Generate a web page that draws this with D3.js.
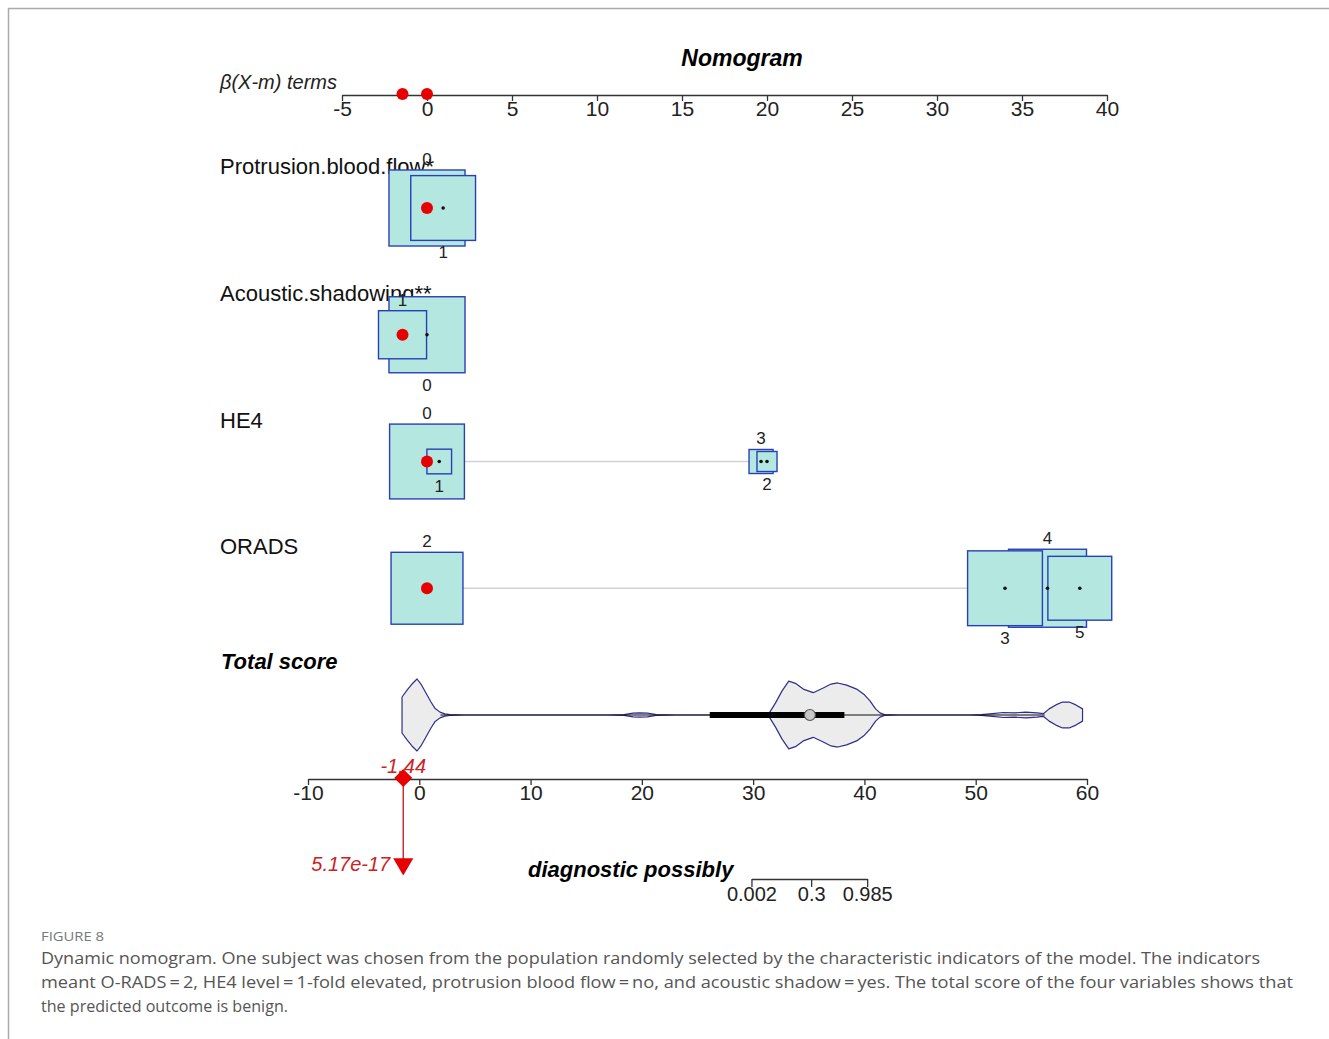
<!DOCTYPE html>
<html>
<head>
<meta charset="utf-8">
<title>Dynamic nomogram</title>
<script src="https://d3js.org/d3.v7.min.js"></script>
<style>
  body { margin: 0; background: #fff; }
  text { font-family: "Liberation Sans", Arial, sans-serif; }
</style>
</head>
<body>
<div id="chart"></div>
<script>
// model variables, top to bottom
var variables = ["Protrusion.blood.flow*", "Acoustic.shadowing**", "HE4", "ORADS"];
var levels = [["0", "1"], ["0", "1"], ["0", "1", "2", "3"], ["2", "3", "4", "5"]];
// beta(X-m) contribution of each level
var betas = [[0, 0.95], [0, -1.44], [0, 0.72, 20.0, 19.65], [0, 34.0, 36.5, 38.4]];
// relative frequency of each level (box area)
var freqs = [[95, 69], [95, 38], [92, 10, 6.6, 9.5], [85, 92, 100, 67]];
// the randomly chosen subject
var observed = ["0", "1", "0", "2"];

var betaTicks = d3.range(-5, 41, 5);
var scoreTicks = d3.range(-10, 61, 10);
var probTicks = [0.002, 0.3, 0.985];
var intercept = -36.061;

// total score distribution (violin), density relative to its peak
var violinScore = [-1.55, -1.1, -0.66, -0.2, 0.15, 0.6, 1.05, 1.4, 1.86, 2.3, 2.75, 4,
  17, 18.4, 19.2, 19.8, 20.5, 21.3, 23,
  30.5, 31.4, 32.0, 32.6, 33.2, 33.8, 34.5, 35.4, 36.3, 37.0, 37.6, 38.4, 39.3, 40.0, 40.5, 41.0, 41.4, 41.8, 43,
  49.5, 50.5, 51.5, 52.5, 53.5, 54.5, 55.5, 56.1, 56.6, 57.2, 57.8, 58.4, 59.0, 59.6];
var violinDensity = [0.50, 0.69, 0.86, 1.00, 0.86, 0.61, 0.36, 0.19, 0.08, 0.03, 0.01, 0,
  0, 0.01, 0.05, 0.06, 0.05, 0.01, 0,
  0, 0.03, 0.33, 0.67, 0.94, 0.88, 0.72, 0.62, 0.75, 0.86, 0.89, 0.83, 0.72, 0.56, 0.39, 0.17, 0.06, 0.01, 0,
  0, 0.01, 0.04, 0.07, 0.06, 0.08, 0.06, 0.04, 0.17, 0.28, 0.36, 0.36, 0.28, 0.17];
// whisker low, q1, median, q3, whisker high
var boxStats = [1.9, 26.1, 35.1, 38.2, 56.2];

var width = 1329, height = 1039;
var svg = d3.select("#chart").append("svg")
    .attr("width", width)
    .attr("height", height);

// R-style labels use a plain hyphen for negatives
function fmt(d) { return String(d); }

// page frame
svg.append("line").attr("x1", 8).attr("x2", width).attr("y1", 8.5).attr("y2", 8.5)
    .attr("stroke", "#aaa").attr("stroke-width", 1.5);
svg.append("line").attr("x1", 8.5).attr("x2", 8.5).attr("y1", 8).attr("y2", height)
    .attr("stroke", "#aaa").attr("stroke-width", 1.5);

var bx = d3.scaleLinear().domain([-5, 40]).range([342, 1107]);
var sx = d3.scaleLinear().domain([-10, 60]).range([308, 1087]);
var row = d3.scalePoint().domain(variables.concat(["Total score"])).range([208, 715]);
var boxSize = d3.scaleSqrt().domain([0, 100]).range([0, 78]);
var dens = d3.scaleLinear().domain([0, 1]).range([0, 36]);

var red = "#e60000", textRed = "#cc2222";
var fillBox = "#b3e7df", strokeBox = "#2b3fb5";

// title
svg.append("text").attr("x", 742).attr("y", 66)
    .attr("text-anchor", "middle")
    .style("font-size", "23px").style("font-weight", "bold").style("font-style", "italic")
    .text("Nomogram");

// beta axis
var topY = 95;
svg.append("text").attr("x", 220).attr("y", 89)
    .style("font-size", "20px").style("font-style", "italic").attr("fill", "#222")
    .text("\u03B2(X-m) terms");
var gTop = svg.append("g").attr("transform", "translate(0," + topY + ")")
    .call(d3.axisBottom(bx).tickValues(betaTicks).tickFormat(fmt)
      .tickSize(6).tickSizeOuter(0).tickPadding(0));
gTop.selectAll("text").style("font-size", "21px").attr("fill", "#222");
gTop.selectAll("path, line").attr("stroke", "#333").attr("stroke-width", 1.3);

var obsBetas = variables.map(function(v, i) {
  return betas[i][levels[i].indexOf(observed[i])];
});
svg.selectAll(".obsTop")
    .data(Array.from(new Set(obsBetas)))
    .enter().append("circle")
    .attr("cx", function(d) { return bx(d); })
    .attr("cy", topY - 1)
    .attr("r", 6)
    .attr("fill", red);

// variable rows
variables.forEach(function(v, i) {
  var cy = row(v);
  var items = levels[i].map(function(l, j) {
    return { lev: l, beta: betas[i][j], freq: freqs[i][j], s: boxSize(freqs[i][j]) };
  });
  var sorted = items.slice().sort(function(a, b) { return a.beta - b.beta; });
  sorted.forEach(function(d, k) { d.above = (k % 2 === 0); });

  svg.append("text").attr("x", 220).attr("y", cy - 34)
      .style("font-size", "22px").attr("fill", "#111")
      .text(v);

  svg.append("line")
      .attr("x1", bx(d3.min(items, function(d) { return d.beta; })))
      .attr("x2", bx(d3.max(items, function(d) { return d.beta; })))
      .attr("y1", cy).attr("y2", cy)
      .attr("stroke", "#d2d2d2").attr("stroke-width", 1.5);

  var drawOrder = items.slice().sort(function(a, b) { return b.s - a.s; });
  var g = svg.append("g");
  g.selectAll("rect").data(drawOrder).enter().append("rect")
      .attr("x", function(d) { return bx(d.beta) - d.s / 2; })
      .attr("y", function(d) { return cy - d.s / 2; })
      .attr("width", function(d) { return d.s; })
      .attr("height", function(d) { return d.s; })
      .attr("fill", fillBox)
      .attr("stroke", strokeBox)
      .attr("stroke-width", 1.4);
  g.selectAll("circle").data(items).enter().append("circle")
      .attr("cx", function(d) { return bx(d.beta); })
      .attr("cy", cy)
      .attr("r", 1.8)
      .attr("fill", "#111");
  g.selectAll("text").data(items).enter().append("text")
      .attr("x", function(d) { return bx(d.beta); })
      .attr("y", function(d) { return d.above ? cy - d.s / 2 - 5 : cy + d.s / 2 + 18; })
      .attr("text-anchor", "middle")
      .style("font-size", "17px").attr("fill", "#222")
      .text(function(d) { return d.lev; });

  svg.append("circle")
      .attr("cx", bx(obsBetas[i]))
      .attr("cy", cy)
      .attr("r", 6)
      .attr("fill", red);
});

// total score
var vy = row("Total score");
svg.append("text").attr("x", 221).attr("y", 669)
    .style("font-size", "22px").style("font-weight", "bold").style("font-style", "italic")
    .text("Total score");

var area = d3.area()
    .x(function(d) { return sx(d[0]); })
    .y0(function(d) { return vy + dens(d[1]); })
    .y1(function(d) { return vy - dens(d[1]); });
svg.append("path")
    .datum(d3.zip(violinScore, violinDensity))
    .attr("d", area)
    .attr("fill", "#ececec")
    .attr("stroke", "#2e2e8a")
    .attr("stroke-width", 1.2)
    .attr("stroke-linejoin", "round");

svg.append("line")
    .attr("x1", sx(boxStats[0])).attr("x2", sx(boxStats[4]))
    .attr("y1", vy).attr("y2", vy)
    .attr("stroke", "#111").attr("stroke-width", 1.2);
svg.append("line")
    .attr("x1", sx(boxStats[1])).attr("x2", sx(boxStats[3]))
    .attr("y1", vy).attr("y2", vy)
    .attr("stroke", "#000").attr("stroke-width", 6);
svg.append("circle")
    .attr("cx", sx(boxStats[2])).attr("cy", vy).attr("r", 5.5)
    .attr("fill", "#c8c8c8").attr("stroke", "#555").attr("stroke-width", 1.2);

// score axis
var axisY = 779;
var gScore = svg.append("g").attr("transform", "translate(0," + axisY + ")")
    .call(d3.axisBottom(sx).tickValues(scoreTicks).tickFormat(fmt)
      .tickSize(6).tickSizeOuter(0).tickPadding(0));
gScore.selectAll("text").style("font-size", "21px").attr("fill", "#222");
gScore.selectAll("path, line").attr("stroke", "#333").attr("stroke-width", 1.3);

// subject's total score and probability
var total = d3.sum(obsBetas);
var prob = 1 / (1 + Math.exp(-(total + intercept)));

svg.append("line")
    .attr("x1", sx(total)).attr("x2", sx(total))
    .attr("y1", axisY).attr("y2", 862)
    .attr("stroke", "#c83030").attr("stroke-width", 1.5);
svg.append("path")
    .attr("d", d3.symbol(d3.symbolSquare, 165)())
    .attr("transform", "translate(" + sx(total) + "," + (axisY - 1) + ") rotate(45)")
    .attr("fill", red);
svg.append("path")
    .attr("d", d3.symbol(d3.symbolTriangle, 175)())
    .attr("transform", "translate(" + sx(total) + ",864) rotate(180)")
    .attr("fill", red);
svg.append("text").attr("x", sx(total)).attr("y", 773)
    .attr("text-anchor", "middle")
    .style("font-size", "20px").style("font-style", "italic").attr("fill", textRed)
    .text(total.toFixed(2));
svg.append("text").attr("x", sx(total) - 13).attr("y", 871)
    .attr("text-anchor", "end")
    .style("font-size", "20px").style("font-style", "italic").attr("fill", textRed)
    .text(prob.toExponential(2));

// probability axis
svg.append("text").attr("x", 528).attr("y", 877)
    .style("font-size", "22px").style("font-weight", "bold").style("font-style", "italic")
    .text("diagnostic possibly");
function probToX(p) { return sx(Math.log(p / (1 - p)) - intercept); }
var px = d3.scaleLinear()
    .domain([probToX(probTicks[0]), probToX(probTicks[2])])
    .range([probToX(probTicks[0]), probToX(probTicks[2])]);
var gProb = svg.append("g").attr("transform", "translate(0,879)")
    .call(d3.axisBottom(px).tickValues(probTicks.map(probToX)).tickSize(8).tickSizeOuter(0).tickPadding(0)
      .tickFormat(function(d, k) { return String(probTicks[k]); }));
gProb.selectAll("text").style("font-size", "20px").attr("fill", "#222");
gProb.selectAll("path, line").attr("stroke", "#333").attr("stroke-width", 1.3);

// caption
svg.append("text").attr("x", 41).attr("y", 941)
    .style("font-family", "'Open Sans', sans-serif").style("font-size", "13px")
    .attr("fill", "#777")
    .attr("textLength", 63).attr("lengthAdjust", "spacingAndGlyphs")
    .text("FIGURE 8");
var captionLines = [
  "Dynamic nomogram. One subject was chosen from the population randomly selected by the characteristic indicators of the model. The indicators",
  "meant O-RADS\u2009=\u20092, HE4 level\u2009=\u20091-fold elevated, protrusion blood flow\u2009=\u2009no, and acoustic shadow\u2009=\u2009yes. The total score of the four variables shows that",
  "the predicted outcome is benign."
];
var captionWidths = [1219, 1252, 247];
svg.selectAll(".cap").data(captionLines).enter().append("text")
    .attr("x", 41)
    .attr("y", function(d, k) { return 964 + k * 24; })
    .style("font-family", "'Open Sans', sans-serif").style("font-size", "17px")
    .attr("fill", "#555")
    .attr("textLength", function(d, k) { return captionWidths[k]; })
    .attr("lengthAdjust", "spacingAndGlyphs")
    .text(function(d) { return d; });
</script>
</body>
</html>
